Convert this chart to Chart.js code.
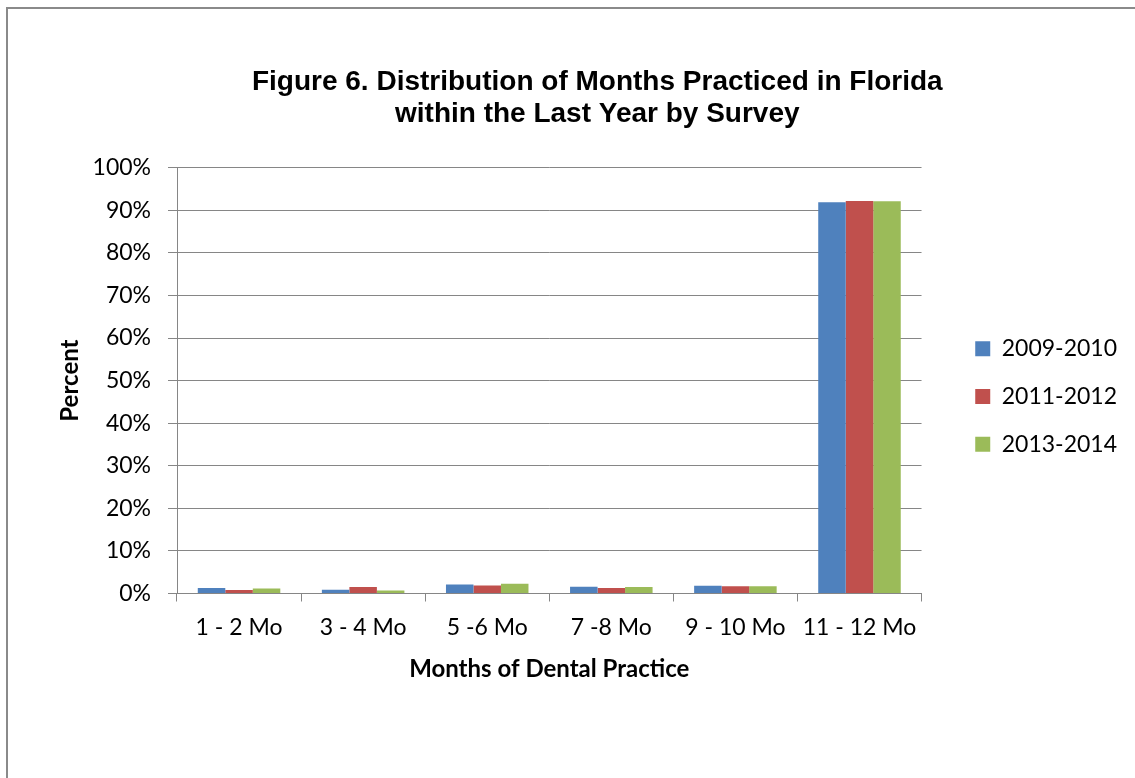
<!DOCTYPE html>
<html>
<head>
<meta charset="utf-8">
<script src="https://cdn.jsdelivr.net/npm/chart.js@4.4.0/dist/chart.umd.min.js"></script>
<style>
  html, body { margin: 0; padding: 0; background: #fff; overflow: hidden; }
  #wrap { position: relative; width: 1135px; height: 778px; overflow: hidden; }
  #frame { position: absolute; left: 6px; top: 7px; width: 1300px; height: 900px;
           border: 2px solid #8a8a8a; box-sizing: border-box; }
  canvas { position: absolute; left: 0; top: 0; }
</style>
</head>
<body>
<div id="wrap">
  <div id="frame"></div>
  <canvas id="myChart" width="1135" height="778"></canvas>
</div>
<script>
// months practiced, percent of respondents per survey
const categories = ['1 - 2 Mo', '3 - 4 Mo', '5 -6 Mo', '7 -8 Mo', '9 - 10 Mo', '11 - 12 Mo']
const surveys = ['2009-2010', '2011-2012', '2013-2014']
const s2009 = [1.3, 0.9, 2.1, 1.6, 1.8, 91.9]
const s2011 = [0.8, 1.5, 1.9, 1.3, 1.7, 92.2]
const s2013 = [1.2, 0.7, 2.3, 1.5, 1.7, 92.1]
const yTicks = [0, 10, 20, 30, 40, 50, 60, 70, 80, 90, 100]

const colors = ['#4f81bd', '#c0504d', '#9bbb59']
const gridColor = '#868686'
const bodyFont = 'Lato'

const ctx = document.getElementById('myChart').getContext('2d')

let myChart = new Chart(ctx, {
    type: 'bar',
    data: {
        labels: categories,
        datasets: [s2009, s2011, s2013].map((d, i) => ({
            label: surveys[i],
            data: d,
            backgroundColor: colors[i],
            borderWidth: 0,
            categoryPercentage: 0.665,
            barPercentage: 1
        }))
    },
    options: {
        responsive: false,
        animation: false,
        layout: { padding: { left: 67.6, right: 8, top: 15, bottom: 0 } },
        plugins: {
            tooltip: { enabled: false },
            title: {
                display: true,
                text: ['Figure 6. Distribution of Months Practiced in Florida', 'within the Last Year by Survey'],
                color: '#000',
                font: { family: 'Liberation Sans', size: 28, weight: 'bold', lineHeight: 1.15 },
                padding: { top: 50.9, bottom: 37.4 }
            },
            legend: {
                position: 'right',
                labels: {
                    boxWidth: 15,
                    boxHeight: 15,
                    padding: 24.7,
                    color: '#000',
                    font: { family: bodyFont, size: 23 }
                }
            }
        },
        scales: {
            x: {
                grid: { display: true, drawOnChartArea: false, drawTicks: true, tickLength: 8, color: gridColor },
                border: { color: gridColor, width: 1 },
                ticks: { color: '#000', padding: 12, font: { family: bodyFont, size: 23 } },
                title: {
                    display: true,
                    text: 'Months of Dental Practice',
                    color: '#000',
                    font: { family: bodyFont, size: 24, weight: 'bold' },
                    padding: { top: 0, bottom: 94.6 }
                },
                afterFit: scale => { scale.height = 184.5 }
            },
            y: {
                min: 0,
                max: 100,
                afterBuildTicks: scale => { scale.ticks = yTicks.map(v => ({ value: v })) },
                grid: { color: gridColor, tickLength: 9 },
                border: { color: gridColor, width: 1 },
                ticks: {
                    color: '#000',
                    padding: 17,
                    font: { family: bodyFont, size: 23 },
                    callback: v => v + '%'
                },
                title: {
                    display: true,
                    text: 'Percent',
                    color: '#000',
                    font: { family: bodyFont, size: 24, weight: 'bold', lineHeight: 0.2 },
                    padding: 0
                },
                afterFit: scale => { scale.width = 177 - 67.6 }
            },
            // empty spacer between the plot and the legend
            gap: {
                position: 'right',
                display: true,
                grid: { display: false },
                border: { display: false },
                ticks: { display: false },
                afterFit: scale => { scale.width = 29 }
            }
        }
    }
})
</script>
</body>
</html>
